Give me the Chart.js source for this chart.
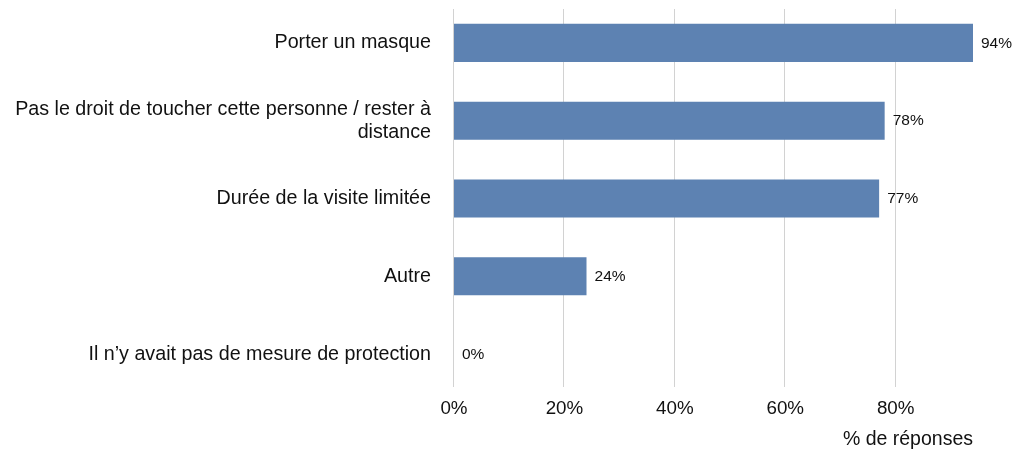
<!DOCTYPE html>
<html>
<head>
<meta charset="utf-8">
<script src="https://cdn.jsdelivr.net/npm/chart.js@4.4.1/dist/chart.umd.min.js"></script>
<style>
  html, body { margin: 0; padding: 0; background: #ffffff; }
  #wrap { width: 1019px; height: 453px; }
</style>
</head>
<body>
<div id="wrap"><canvas id="chart" width="1019" height="453"></canvas></div>
<script>
// Mesures de protection appliquées lors des visites (% de réponses)
const categories = [
  'Porter un masque',
  ['Pas le droit de toucher cette personne / rester à', 'distance'],
  'Durée de la visite limitée',
  'Autre',
  'Il n\u2019y avait pas de mesure de protection'
];
const values = [94, 78, 77, 24, 0];
const xTicks = [0, 20, 40, 60, 80];
const axisTitle = '% de réponses';

const FONT = '"Liberation Sans", Arial, Helvetica, sans-serif';
const BAR = '#5d82b2';
const GRID = '#d2d2d2';
const TEXT = '#111111';

// Vertical gridlines, slightly inset from the plot top/bottom
const gridPlugin = {
  id: 'insetGrid',
  beforeDatasetsDraw(chart) {
    const { ctx, chartArea, scales } = chart;
    ctx.save();
    ctx.strokeStyle = GRID;
    ctx.lineWidth = 1;
    xTicks.forEach(v => {
      const x = Math.round(scales.x.getPixelForValue(v)) - 0.5;
      ctx.beginPath();
      ctx.moveTo(x, chartArea.top + 5);
      ctx.lineTo(x, chartArea.bottom - 6);
      ctx.stroke();
    });
    ctx.restore();
  }
};

// Value labels to the right of each bar
const valueLabels = {
  id: 'valueLabels',
  afterDatasetsDraw(chart) {
    const { ctx } = chart;
    const meta = chart.getDatasetMeta(0);
    ctx.save();
    ctx.font = '15.5px ' + FONT;
    ctx.fillStyle = TEXT;
    ctx.textAlign = 'left';
    ctx.textBaseline = 'middle';
    meta.data.forEach((bar, i) => {
      ctx.fillText(values[i] + '%', bar.x + 8, bar.y + 0.5);
    });
    ctx.restore();
  }
};

new Chart(document.getElementById('chart'), {
  type: 'bar',
  data: {
    labels: categories,
    datasets: [{
      data: values,
      backgroundColor: BAR,
      borderWidth: 0,
      barPercentage: 0.98,
      categoryPercentage: 0.5
    }]
  },
  options: {
    indexAxis: 'y',
    responsive: false,
    animation: false,
    events: [],
    layout: { padding: { top: 4, right: 46, bottom: 0, left: 0 } },
    plugins: {
      legend: { display: false },
      tooltip: { enabled: false }
    },
    scales: {
      x: {
        min: 0,
        max: 94,
        grid: { display: false, drawTicks: false },
        border: { display: false },
        ticks: {
          stepSize: 20,
          includeBounds: false,
          padding: 5,
          color: TEXT,
          font: { family: FONT, size: 18.8 },
          callback: v => v + '%'
        },
        title: {
          display: true,
          text: axisTitle,
          align: 'end',
          color: TEXT,
          font: { family: FONT, size: 19.5 },
          padding: { top: 8, bottom: 2 }
        },
        afterFit(scale) { scale.height = 60; }
      },
      y: {
        grid: { display: false, drawTicks: false },
        border: { display: false },
        ticks: {
          padding: 23,
          color: TEXT,
          font: { family: FONT, size: 19.7, lineHeight: 1.17 }
        },
        afterFit(scale) {
          scale.width = 454;
          scale.paddingTop = 0;
          scale.paddingBottom = 0;
        }
      }
    }
  },
  plugins: [gridPlugin, valueLabels]
});
</script>
</body>
</html>
